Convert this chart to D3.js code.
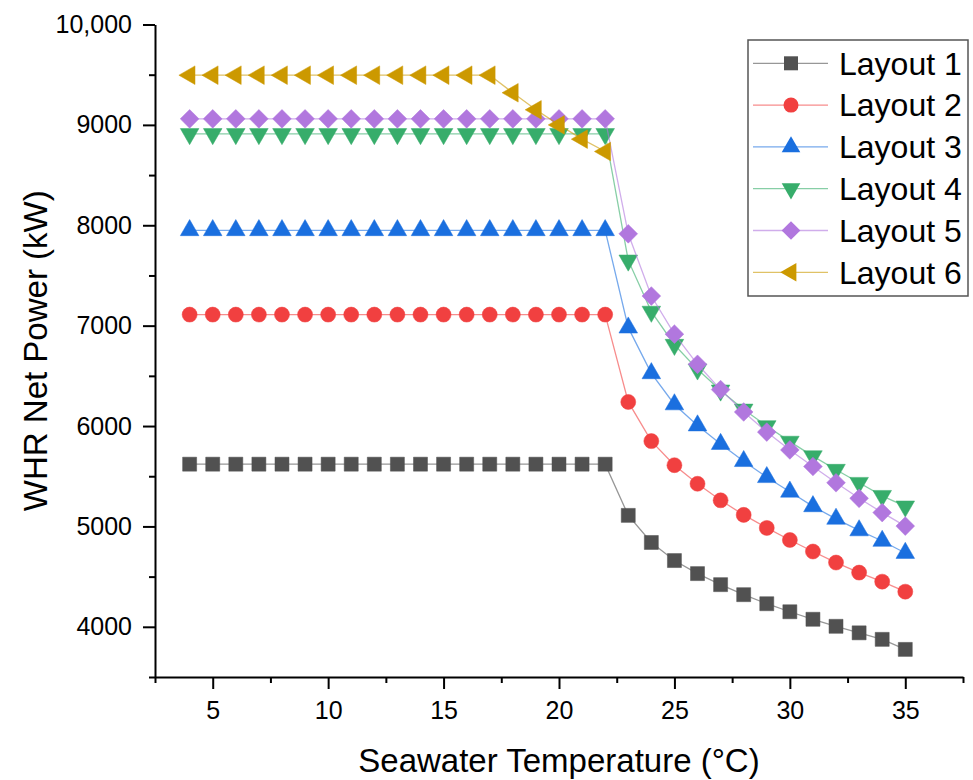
<html>
	<head>
		<meta charset="utf-8">
		<title>WHR Net Power</title>
		<style>

body {
	margin: 0;
	background: white;
	font-family: "Liberation Sans", Arial, sans-serif;
}

.axis .domain {
	stroke: black;
	stroke-width: 2px;
}

.axis .tick line {
	stroke: black;
	stroke-width: 2px;
}

.axis .tick text {
	fill: black;
	font-family: "Liberation Sans", Arial, sans-serif;
	font-size: 25px;
}

.minor .domain {
	display: none;
}

.line {
	fill: none;
	stroke-width: 1.3px;
	stroke-opacity: 0.6;
}

.label {
	font-size: 33px;
	fill: black;
}

.legend text {
	font-size: 32px;
	fill: black;
}

		</style>
	</head>
	<body>
		<svg class="chart"></svg>

<script src="https://cdn.jsdelivr.net/npm/d3@7"></script>
<script>

var temps = [4, 5, 6, 7, 8, 9, 10, 11, 12, 13, 14, 15, 16, 17, 18, 19, 20, 21, 22,
	23, 24, 25, 26, 27, 28, 29, 30, 31, 32, 33, 34, 35];

var layout1 = [5620, 5620, 5620, 5620, 5620, 5620, 5620, 5620, 5620, 5620, 5620, 5620, 5620, 5620, 5620, 5620, 5620, 5620, 5620,
	5110, 4840, 4660, 4530, 4420, 4320, 4230, 4150, 4075, 4005, 3940, 3875, 3775];
var layout2 = [7110, 7110, 7110, 7110, 7110, 7110, 7110, 7110, 7110, 7110, 7110, 7110, 7110, 7110, 7110, 7110, 7110, 7110, 7110,
	6240, 5850, 5610, 5425, 5260, 5115, 4985, 4865, 4750, 4640, 4540, 4450, 4350];
var layout3 = [7950, 7950, 7950, 7950, 7950, 7950, 7950, 7950, 7950, 7950, 7950, 7950, 7950, 7950, 7950, 7950, 7950, 7950, 7950,
	6980, 6525, 6215, 6005, 5820, 5650, 5490, 5345, 5200, 5075, 4960, 4855, 4735];
var layout4 = [8910, 8910, 8910, 8910, 8910, 8910, 8910, 8910, 8910, 8910, 8910, 8910, 8910, 8910, 8910, 8910, 8910, 8910, 8910,
	7650, 7140, 6810, 6565, 6355, 6165, 6000, 5845, 5700, 5565, 5435, 5305, 5200];
var layout5 = [9060, 9060, 9060, 9060, 9060, 9060, 9060, 9060, 9060, 9060, 9060, 9060, 9060, 9060, 9060, 9060, 9060, 9060, 9060,
	7915, 7295, 6915, 6615, 6363, 6140, 5940, 5762, 5597, 5435, 5280, 5138, 5003];
// layout 6 stops at 22 °C
var layout6 = [9495, 9495, 9495, 9495, 9495, 9495, 9495, 9495, 9495, 9495, 9495, 9495, 9495, 9495, 9320, 9150, 9000, 8858, 8735,
	null, null, null, null, null, null, null, null, null, null, null, null, null];

var names = ["Layout 1", "Layout 2", "Layout 3", "Layout 4", "Layout 5", "Layout 6"];
var colors = ["#515151", "#f14040", "#1a6fdf", "#37ad6b", "#b177de", "#cc9900"];

var xTicks = [5, 10, 15, 20, 25, 30, 35];
var xMinor = [2.5, 7.5, 12.5, 17.5, 22.5, 27.5, 32.5, 37.5];
var yTicks = [4000, 5000, 6000, 7000, 8000, 9000, 10000];
var yMinor = [3500, 4500, 5500, 6500, 7500, 8500, 9500];

var series = [layout1, layout2, layout3, layout4, layout5, layout6];

// marker shapes: square, circle, triangle up, triangle down, diamond, triangle left
var symbols = [
	{type: d3.symbolSquare, size: 196, rotate: 0},
	{type: d3.symbolCircle, size: 177, rotate: 0},
	{type: d3.symbolTriangle, size: 150, rotate: 0},
	{type: d3.symbolTriangle, size: 150, rotate: 180},
	{type: d3.symbolSquare, size: 175, rotate: 45},
	{type: d3.symbolTriangle, size: 150, rotate: -90}
];

var margin = {top: 24.5, right: 10, bottom: 103, left: 155};
var width = 973 - margin.left - margin.right;
var height = 780 - margin.top - margin.bottom;

var x = d3.scaleLinear()
	.domain([2.5, 37.5])
	.range([0, width]);
var y = d3.scaleLinear()
	.domain([3500, 10000])
	.range([height, 0]);

var svg = d3.select(".chart")
	.attr("width", 973)
	.attr("height", 780);

var chart = svg.append("g")
	.attr("transform", "translate(" + margin.left + ", " + margin.top + ")");

chart.append("g")
	.attr("class", "x axis minor")
	.attr("transform", "translate(0, " + height + ")")
	.call(d3.axisBottom(x).tickValues(xMinor).tickSize(6).tickFormat(""));
chart.append("g")
	.attr("class", "y axis minor")
	.call(d3.axisLeft(y).tickValues(yMinor).tickSize(6).tickFormat(""));

chart.append("g")
	.attr("class", "x axis")
	.attr("transform", "translate(0, " + height + ")")
	.call(d3.axisBottom(x).tickValues(xTicks).tickSize(12).tickSizeOuter(0).tickPadding(12));
chart.append("g")
	.attr("class", "y axis")
	.call(d3.axisLeft(y).tickValues(yTicks).tickSize(12).tickSizeOuter(0).tickPadding(11)
		.tickFormat(function(d) { return d == 10000 ? "10,000" : d; }));

var line = d3.line()
	.defined(function(d) { return d.v != null; })
	.x(function(d) { return x(d.t); })
	.y(function(d) { return y(d.v); });

series.forEach(function(values, i) {
	var pts = temps.map(function(t, j) { return {t: t, v: values[j]}; });
	var g = chart.append("g").attr("class", "series");
	g.append("path")
		.datum(pts)
		.attr("class", "line")
		.attr("stroke", colors[i])
		.attr("d", line);
	g.selectAll(".dot")
		.data(pts.filter(function(d) { return d.v != null; }))
	  .enter().append("path")
		.attr("class", "dot")
		.attr("fill", colors[i])
		.attr("stroke", colors[i])
		.attr("stroke-width", 0.5)
		.attr("transform", function(d) {
			return "translate(" + x(d.t) + ", " + y(d.v) + ") rotate(" + symbols[i].rotate + ")";
		})
		.attr("d", d3.symbol().type(symbols[i].type).size(symbols[i].size));
});

chart.append("text")
	.attr("class", "label")
	.attr("x", width / 2)
	.attr("y", height + 95)
	.attr("text-anchor", "middle")
	.text("Seawater Temperature (°C)");

chart.append("text")
	.attr("class", "label")
	.attr("transform", "translate(-108, " + (height / 2) + ") rotate(-90)")
	.attr("text-anchor", "middle")
	.text("WHR Net Power (kW)");

// legend
var legend = svg.append("g")
	.attr("class", "legend")
	.attr("transform", "translate(748, 40)");

legend.append("rect")
	.attr("width", 220)
	.attr("height", 256)
	.attr("fill", "white")
	.attr("stroke", "#555")
	.attr("stroke-width", 1.5);

var item = legend.selectAll(".item")
	.data(names)
  .enter().append("g")
	.attr("class", "item")
	.attr("transform", function(d, i) { return "translate(0, " + (23.3 + i * 41.8) + ")"; });

item.append("line")
	.attr("x1", 5)
	.attr("x2", 80)
	.attr("stroke", function(d, i) { return colors[i]; })
	.attr("stroke-opacity", 0.6)
	.attr("stroke-width", 1.3);

item.append("path")
	.attr("fill", function(d, i) { return colors[i]; })
	.attr("transform", function(d, i) { return "translate(43, 0) rotate(" + symbols[i].rotate + ")"; })
	.attr("d", function(d, i) { return d3.symbol().type(symbols[i].type).size(symbols[i].size)(); });

item.append("text")
	.attr("x", 91)
	.attr("dy", "0.35em")
	.text(function(d) { return d; });

</script>
	</body>
</html>
